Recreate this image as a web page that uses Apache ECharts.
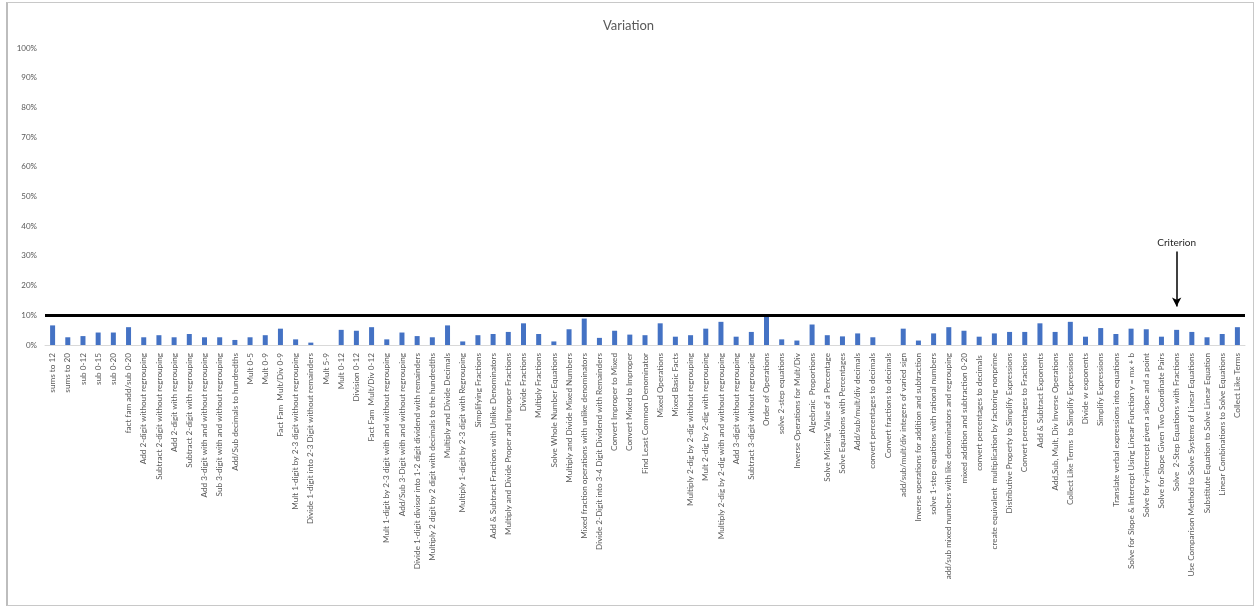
<!DOCTYPE html>
<html>
<head>
<meta charset="utf-8">
<title>Variation</title>
<script src="https://cdn.jsdelivr.net/npm/echarts@6/dist/echarts.min.js"></script>
<style>
  html, body { margin: 0; padding: 0; background: #fff; }
  #chart { width: 1257px; height: 611px; }
  #frame { position: absolute; left: 6px; top: 2px; width: 1245px; height: 602px; border: 1px solid #c8c8c8; border-left: 2px solid #bdbdbd; pointer-events: none; }
</style>
</head>
<body>
<div id="chart"></div>
<div id="frame"></div>
<script>
// skill names along the x axis
const skills = [
  'sums to 12', 'sums to 20', 'sub 0-12', 'sub 0-15', 'sub 0-20',
  'fact fam add/sub 0-20', 'Add 2-digit without regrouping', 'Subtract 2-digit without regrouping',
  'Add 2-digit with regrouping', 'Subtract 2-digit with regrouping',
  'Add 3-digit with and without regrouping', 'Sub 3-digit with and without regrouping',
  'Add/Sub decimals to hundredths', 'Mult 0-5', 'Mult 0-9', 'Fact Fam  Mult/Div 0-9',
  'Mult 1-digit by 2-3 digit without regrouping', 'Divide 1-digit into 2-3 Digit without remainders',
  'Mult 5-9', 'Mult 0-12', 'Division 0-12', 'Fact Fam  Mult/Div 0-12',
  'Mult 1-digit by 2-3 digit with and without regrouping', 'Add/Sub 3-Digit with and without regrouping',
  'Divide 1-digit divisor into 1-2 digit dividend with remainders',
  'Multiply 2 digit by 2 digit with decimals to the hundredths', 'Multiply and Divide Decimals',
  'Multiply 1-digit by 2-3 digit with Regrouping', 'Simplifying Fractions',
  'Add & Subtract Fractions with Unlike Denominators', 'Multiply and Divide Proper and Improper Fractions',
  'Divide Fractions', 'Multiply Fractions', 'Solve Whole Number Equations',
  'Multiply and Divide Mixed Numbers', 'Mixed fraction operations with unlike denominators',
  'Divide 2-Digit into 3-4 Digit Dividend with Remainders', 'Convert Improper to Mixed',
  'Convert Mixed to Improper', 'Find Least Common Denominator', 'Mixed Operations',
  'Mixed Basic Facts', 'Multiply 2-dig by 2-dig without regrouping', 'Mult 2-dig by 2-dig with regrouping',
  'Multiply 2-dig by 2-dig with and without regrouping', 'Add 3-digit without regrouping',
  'Subtract 3-digit without regrouping', 'Order of Operations', 'solve 2-step equations',
  'Inverse Operations for Mult/Div', 'Algebraic  Proportions', 'Solve Missing Value of a Percentage',
  'Solve Equations with Percentages', 'Add/sub/mult/div decimals', 'convert percentages to decimals',
  'Convert fractions to decimals', 'add/sub/mult/div integers of varied sign',
  'Inverse operations for addition and subtraction', 'solve 1-step equations with rational numbers',
  'add/sub mixed numbers with like denominators and regrouping', 'mixed addition and subtraction 0-20',
  'convert percentages to decimals ', 'create equivalent  multiplication by factoring nonprime',
  'Distributive Property to Simplify Expressions', 'Convert percentages to Fractions',
  'Add & Subtract Exponents', 'Add,Sub, Mult, Div Inverse Operations',
  'Collect Like Terms  to Simplify Expressions', 'Divide w exponents', 'Simplify Expressions',
  'Translate verbal expressions into equations',
  'Solve for Slope & Intercept Using Linear Function y = mx + b',
  'Solve for y-intercept given a slope and a point', 'Solve for Slope Given Two Coordinate Pairs',
  'Solve  2-Step Equations with Fractions', 'Use Comparison Method to Solve Systems of Linear Equations',
  'Substitute Equation to Solve Linear Equation', 'Linear Combinations to Solve Equations',
  'Collect Like Terms'
]

// variation per skill, percent
const variation = [
  6.6, 2.6, 3.0, 4.2, 4.2, 6.0, 2.6, 3.3, 2.6, 3.7,
  2.6, 2.6, 1.7, 2.6, 3.3, 5.5, 1.9, 0.8, 0, 5.1,
  4.8, 6.0, 1.9, 4.2, 3.0, 2.6, 6.6, 1.2, 3.3, 3.7,
  4.4, 7.3, 3.7, 1.2, 5.3, 8.9, 2.4, 4.8, 3.5, 3.3,
  7.3, 2.8, 3.3, 5.5, 7.8, 2.8, 4.4, 9.8, 1.9, 1.5,
  6.9, 3.3, 2.9, 3.9, 2.6, 0, 5.5, 1.5, 3.9, 6.0,
  4.8, 2.8, 3.9, 4.4, 4.4, 7.3, 4.4, 7.8, 2.8, 5.7,
  3.7, 5.5, 5.3, 2.8, 5.1, 4.4, 2.6, 3.7, 6.0
]

const criterion = 10
// the arrow that points at the criterion line
const arrowAt = 74
const arrowFrom = 31.5
const arrowTo = 13

const yTicks = [0, 10, 20, 30, 40, 50, 60, 70, 80, 90, 100]

const chart = echarts.init(document.getElementById('chart'))

chart.setOption({
  animation: false,
  textStyle: { fontFamily: 'Lato, "Liberation Sans", sans-serif' },
  title: {
    text: 'Variation',
    left: 'center',
    top: 14,
    textStyle: { fontSize: 13, fontWeight: 'normal', color: '#595959' }
  },
  grid: { left: 45, right: 12, top: 48, bottom: 266, containLabel: false },
  xAxis: {
    type: 'category',
    data: skills,
    axisLine: { lineStyle: { color: '#d9d9d9' } },
    axisTick: { show: false },
    axisLabel: { interval: 0, rotate: 90, fontSize: 8.2, color: '#595959', margin: 8 }
  },
  yAxis: {
    type: 'value',
    min: yTicks[0],
    max: yTicks[yTicks.length - 1],
    interval: 10,
    splitLine: { show: false },
    axisLine: { show: false },
    axisTick: { show: false },
    axisLabel: { formatter: '{value}%', fontSize: 8, color: '#595959', margin: 8 }
  },
  series: [
    {
      name: 'Variation',
      type: 'bar',
      data: variation,
      barWidth: 5,
      itemStyle: { color: '#4472c4' },
      markLine: {
        silent: true,
        animation: false,
        symbol: ['none', 'none'],
        data: [
          {
            yAxis: criterion,
            lineStyle: { color: '#000', width: 3, type: 'solid' },
            label: { show: false }
          },
          [
            {
              coord: [arrowAt, arrowFrom],
              symbol: 'none',
              lineStyle: { color: '#000', width: 1.5, type: 'solid' },
              label: { show: true, position: 'start', formatter: 'Criterion', color: '#262626', fontSize: 10, distance: 4 }
            },
            { coord: [arrowAt, arrowTo], symbol: 'arrow', symbolSize: [7, 9] }
          ]
        ]
      }
    }
  ]
})
</script>
</body>
</html>
